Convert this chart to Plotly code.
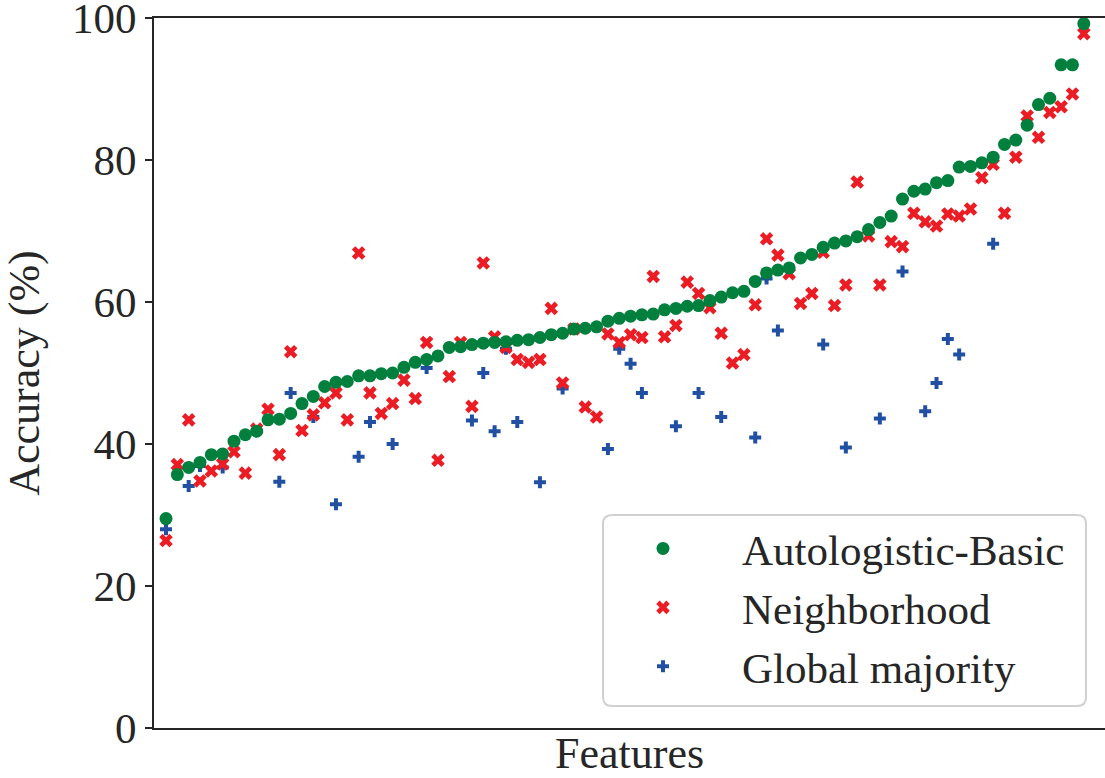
import plotly.graph_objects as go

autologistic = [29.5, 35.7, 36.7, 37.4, 38.5, 38.6, 40.4, 41.3, 41.8, 43.4,
                43.5, 44.3, 45.7, 46.7, 48.1, 48.7, 48.8, 49.6, 49.6, 49.9,
                50.0, 50.8, 51.5, 51.9, 52.4, 53.6, 53.7, 54.0, 54.2, 54.3,
                54.4, 54.6, 54.7, 55.0, 55.4, 55.6, 56.2, 56.3, 56.5, 57.3,
                57.7, 58.0, 58.2, 58.3, 58.9, 59.1, 59.4, 59.5, 60.2, 60.7,
                61.3, 61.5, 62.9, 64.1, 64.5, 64.8, 66.2, 66.7, 67.7, 68.3,
                68.6, 69.2, 70.2, 71.2, 72.1, 74.5, 75.6, 75.9, 76.8, 77.1,
                79.0, 79.1, 79.6, 80.4, 82.2, 82.8, 84.9, 87.8, 88.7, 93.4,
                93.4, 99.2]

neighborhood = [26.4, 37.1, 43.4, 34.8, 36.2, 37.2, 38.9, 35.9, 42.1, 44.9,
                38.5, 53.0, 41.9, 44.1, 45.8, 47.2, 43.4, 66.9, 47.2, 44.3,
                45.7, 49.0, 46.4, 54.3, 37.7, 49.5, 54.3, 45.3, 65.5, 55.1,
                53.6, 51.9, 51.5, 51.9, 59.1, 48.6, 56.2, 45.2, 43.8, 55.5,
                54.3, 55.4, 55.0, 63.6, 55.1, 56.7, 62.8, 61.2, 59.2, 55.6,
                51.4, 52.6, 59.6, 68.9, 66.6, 64.0, 59.8, 61.2, 67.0, 59.5,
                62.4, 76.9, 69.3, 62.4, 68.5, 67.8, 72.5, 71.3, 70.7, 72.4,
                72.1, 73.1, 77.5, 79.4, 72.5, 80.4, 86.2, 83.2, 86.7, 87.5,
                89.3, 97.8]

# None = marker hidden beneath other markers in the reference
global_majority = [28.0, None, 34.1, 36.9, None, 36.7, None, None, None, None,
                   34.7, 47.2, None, 43.8, None, 31.5, None, 38.2, 43.1, None,
                   40.0, None, None, 50.7, None, None, None, 43.3, 50.0, 41.8,
                   53.4, 43.1, None, 34.6, None, 47.8, None, None, None, 39.3,
                   53.4, 51.3, 47.2, None, None, 42.5, None, 47.2, None, 43.8,
                   None, None, 40.9, 63.3, 56.0, None, None, None, 54.0, None,
                   39.5, None, None, 43.6, None, 64.3, None, 44.6, 48.6, 54.8,
                   52.6, None, None, 68.2, None, None, None, None, None, None,
                   None, None]

features = list(range(len(autologistic)))
y_ticks = [0, 20, 40, 60, 80, 100]

GREEN = "#007f3d"
RED = "#ec1c24"
BLUE = "#2150a3"
FONT = "Liberation Serif"
AX = "#262626"

fig = go.Figure()
fig.add_trace(go.Scatter(x=features, y=global_majority, mode="markers", name="Global majority",
                         marker=dict(symbol="cross", size=10, color=BLUE), legendrank=3))
fig.add_trace(go.Scatter(x=features, y=neighborhood, mode="markers", name="Neighborhood",
                         marker=dict(symbol="x", size=12, color=RED), legendrank=2))
fig.add_trace(go.Scatter(x=features, y=autologistic, mode="markers", name="Autologistic-Basic",
                         marker=dict(symbol="circle", size=13, color=GREEN), legendrank=1))

L, T, B = 154, 18, 50
W, H = 1105, 778
pw = W - L
ph = H - T - B

def px(x):
    return (x - L) / pw

def py(y):
    return (H - B - y) / ph

# rounded legend frame
x0, x1, y0, y1, r = 603, 1086, 515, 706, 9
path = (f"M {px(x0 + r)} {py(y0)} L {px(x1 - r)} {py(y0)} Q {px(x1)} {py(y0)} {px(x1)} {py(y0 + r)} "
        f"L {px(x1)} {py(y1 - r)} Q {px(x1)} {py(y1)} {px(x1 - r)} {py(y1)} "
        f"L {px(x0 + r)} {py(y1)} Q {px(x0)} {py(y1)} {px(x0)} {py(y1 - r)} "
        f"L {px(x0)} {py(y0 + r)} Q {px(x0)} {py(y0)} {px(x0 + r)} {py(y0)} Z")
fig.add_shape(type="path", path=path, xref="paper", yref="paper",
              line=dict(color="#d0d0d0", width=2), fillcolor="rgba(255,255,255,0.8)", layer="below")

fig.update_layout(
    width=W, height=H,
    margin=dict(l=L, r=0, t=T, b=B),
    plot_bgcolor="white", paper_bgcolor="white",
    font=dict(family=FONT, size=43, color=AX),
    showlegend=True,
    legend=dict(x=px(584), y=py(514), xanchor="left", yanchor="top",
                bgcolor="rgba(0,0,0,0)", borderwidth=0,
                itemwidth=148, font=dict(family=FONT, size=43, color=AX),
                tracegroupgap=0),
    xaxis=dict(range=[-1.06, 82.87], showgrid=False, zeroline=False,
               showticklabels=False, ticks="", automargin=False,
               showline=True, linecolor=AX, linewidth=2, mirror=True,
               title=dict(text="Features", standoff=9, font=dict(family=FONT, size=44, color=AX))),
    yaxis=dict(range=[0, 100], tickvals=y_ticks, showgrid=False, zeroline=False,
               ticks="outside", ticklen=7, tickwidth=1.5, tickcolor=AX,
               ticklabeloverflow="allow", automargin=False,
               showline=True, linecolor=AX, linewidth=2,
               tickfont=dict(family=FONT, size=43, color=AX),
               title=dict(text="Accuracy (%)", standoff=40, font=dict(family=FONT, size=44, color=AX))),
)

fig.write_html("out.html")
